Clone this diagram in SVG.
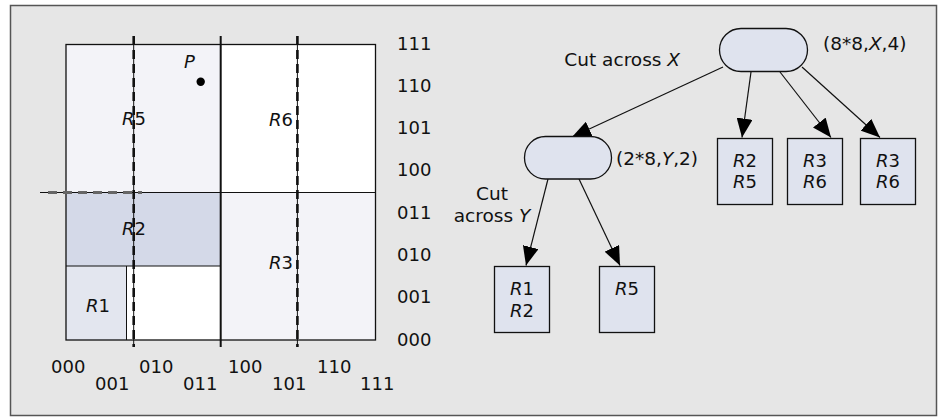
<svg xmlns="http://www.w3.org/2000/svg" width="941" height="417" viewBox="0 0 941 417">
<defs>
<style>
text{font-family:"DejaVu Sans","Noto Sans",sans-serif;font-size:18px;fill:#111}
.t{font-size:18.5px}
.i{font-style:italic}
.node{fill:#dfe3ee;stroke:#111;stroke-width:1.3}
.edge{stroke:#111;stroke-width:1.2;fill:none;marker-end:url(#ah)}
.thin{stroke:#111;stroke-width:1;fill:none}
.dash{stroke:#111;stroke-width:2.6;stroke-dasharray:9 5;fill:none}
</style>
<marker id="ah" markerUnits="userSpaceOnUse" markerWidth="20" markerHeight="16" viewBox="0 0 20 16" refX="19" refY="8" orient="auto">
<path d="M0,0 L19,8 L0,16 Z" fill="#000"/>
</marker>
</defs>
<rect x="10.5" y="5.5" width="926" height="410" fill="#e6e6e6" stroke="#555" stroke-width="1.5"/>

<g id="grid">
<rect x="66" y="44.5" width="154.5" height="148" fill="#f3f3f8"/>
<rect x="220.5" y="44.5" width="155" height="148" fill="#ffffff"/>
<rect x="66" y="192.5" width="154.5" height="73.5" fill="#d4d9e8"/>
<rect x="66" y="266" width="60" height="74" fill="#e3e6ef"/>
<rect x="126" y="266" width="94.5" height="74" fill="#ffffff"/>
<rect x="220.5" y="192.5" width="155" height="147.5" fill="#f3f3f8"/>
<rect x="66" y="44.5" width="309.5" height="295.5" fill="none" stroke="#111" stroke-width="1.3"/>
<line x1="66" y1="192.5" x2="375.5" y2="192.5" class="thin" stroke-width="1.3"/>
<line x1="66" y1="266" x2="220.5" y2="266" class="thin" stroke-width="1.3"/>
<line x1="126.5" y1="266" x2="126.5" y2="340" class="thin" stroke-width="1.3"/>
<line x1="220.7" y1="36" x2="220.7" y2="347" stroke="#111" stroke-width="2"/>
<line x1="133.7" y1="36" x2="133.7" y2="347" class="thin"/>
<line x1="133.7" y1="36" x2="133.7" y2="347" class="dash"/>
<line x1="297.4" y1="36" x2="297.4" y2="347" class="thin"/>
<line x1="297.4" y1="36" x2="297.4" y2="347" class="dash"/>
<line x1="40" y1="192.5" x2="142" y2="192.5" class="thin"/>
<line x1="48" y1="192.5" x2="142" y2="192.5" stroke="#666" stroke-width="3" stroke-dasharray="9 6"/>
<circle cx="200.7" cy="81.7" r="4.2" fill="#000"/>
<text x="184" y="68" class="i">P</text>
<text x="122" y="125"><tspan class="i">R</tspan>5</text>
<text x="269" y="126"><tspan class="i">R</tspan>6</text>
<text x="122" y="235"><tspan class="i">R</tspan>2</text>
<text x="269" y="269"><tspan class="i">R</tspan>3</text>
<text x="86" y="312"><tspan class="i">R</tspan>1</text>
</g>

<g id="y-axis">
<text x="397" y="49.5">111</text>
<text x="397" y="91.8">110</text>
<text x="397" y="134.1">101</text>
<text x="397" y="176.4">100</text>
<text x="397" y="218.7">011</text>
<text x="397" y="261">010</text>
<text x="397" y="303.3">001</text>
<text x="397" y="345.6">000</text>
</g>
<g id="x-axis">
<text x="51" y="373">000</text>
<text x="95" y="390">001</text>
<text x="139" y="373">010</text>
<text x="183" y="390">011</text>
<text x="228" y="373">100</text>
<text x="272" y="390">101</text>
<text x="317" y="373">110</text>
<text x="360" y="390">111</text>
</g>

<g id="connectors">
<line class="edge" x1="723" y1="67" x2="572" y2="137"/>
<line class="edge" x1="751" y1="72" x2="742" y2="137.5"/>
<line class="edge" x1="780" y1="72" x2="831" y2="137.5"/>
<line class="edge" x1="802" y1="67" x2="880" y2="137.5"/>
<line class="edge" x1="548" y1="179" x2="526" y2="265.5"/>
<line class="edge" x1="579" y1="179" x2="620" y2="265.5"/>
</g>

<g id="root">
<rect class="node" x="719.5" y="28.5" width="88" height="43" rx="21.5"/>
<text class="t" x="680" y="66" text-anchor="end">Cut across <tspan class="i">X</tspan></text>
<text class="t" x="823" y="50">(8*8,<tspan class="i">X</tspan>,4)</text>
</g>
<g id="ynode">
<rect class="node" x="524.5" y="136.5" width="87" height="42.5" rx="21"/>
<text class="t" x="616" y="165">(2*8,<tspan class="i">Y</tspan>,2)</text>
<text class="t" x="492" y="200" text-anchor="middle">Cut</text>
<text class="t" x="492" y="222" text-anchor="middle">across <tspan class="i">Y</tspan></text>
</g>
<g id="leaf-r2r5">
<rect class="node" x="717.5" y="138.5" width="55" height="66"/>
<text x="745" y="167" text-anchor="middle"><tspan class="i">R</tspan>2</text>
<text x="745" y="188" text-anchor="middle"><tspan class="i">R</tspan>5</text>
</g>
<g id="leaf-r3r6a">
<rect class="node" x="787.5" y="138.5" width="55" height="66"/>
<text x="815" y="167" text-anchor="middle"><tspan class="i">R</tspan>3</text>
<text x="815" y="188" text-anchor="middle"><tspan class="i">R</tspan>6</text>
</g>
<g id="leaf-r3r6b">
<rect class="node" x="860.5" y="138.5" width="55" height="66"/>
<text x="888" y="167" text-anchor="middle"><tspan class="i">R</tspan>3</text>
<text x="888" y="188" text-anchor="middle"><tspan class="i">R</tspan>6</text>
</g>
<g id="leaf-r1r2">
<rect class="node" x="494.5" y="266.5" width="55" height="66"/>
<text x="522" y="295" text-anchor="middle"><tspan class="i">R</tspan>1</text>
<text x="522" y="317" text-anchor="middle"><tspan class="i">R</tspan>2</text>
</g>
<g id="leaf-r5">
<rect class="node" x="599.5" y="266.5" width="55" height="66"/>
<text x="627" y="295" text-anchor="middle"><tspan class="i">R</tspan>5</text>
</g>
</svg>
